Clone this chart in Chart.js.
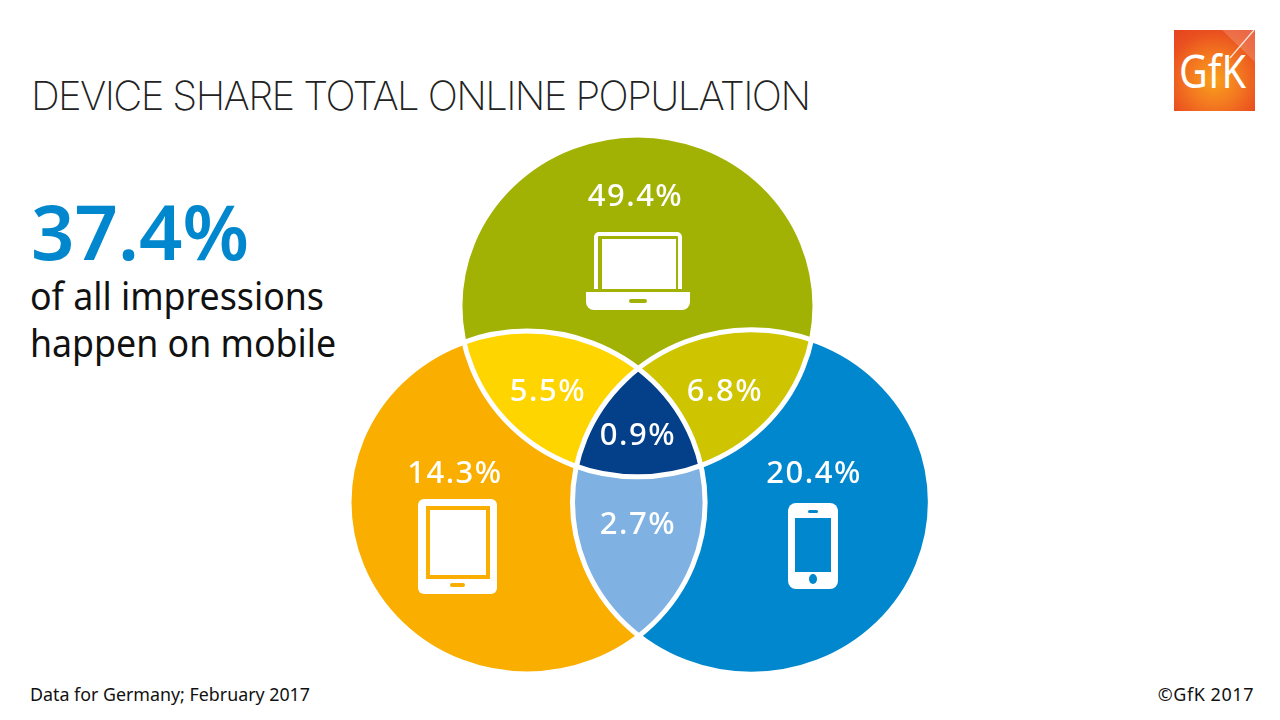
<!DOCTYPE html>
<html>
<head>
<meta charset="utf-8">
<title>Device share total online population</title>
<script src="https://cdn.jsdelivr.net/npm/chart.js@4"></script>
<style>
  html, body { margin: 0; padding: 0; background: #fff; }
  body { position: relative; width: 1280px; height: 720px; overflow: hidden; font-family: "Noto Sans", sans-serif; color: #111; }
  .abs { position: absolute; white-space: nowrap; line-height: 1; transform-origin: left top; }
  #title { left: 31px; top: 76px; font-family: Inter, sans-serif; font-weight: 200; font-size: 40px; letter-spacing: -1.6px; color: #222; }
  #bigShare { left: 31px; top: 193px; font-size: 76px; font-weight: 600; color: #0087cd; }
  #line1 { left: 30px; top: 276px; font-size: 38px; transform: scaleX(0.94); }
  #line2 { left: 30px; top: 323px; font-size: 38px; transform: scaleX(0.94); }
  #source { left: 30px; top: 685px; font-size: 18px; transform: scaleX(0.99); }
  #copyright { right: 26px; top: 685px; font-size: 18px; letter-spacing: 0.55px; }
  #logo { position: absolute; left: 1174px; top: 30px; width: 81px; height: 81px; overflow: hidden;
    background: radial-gradient(circle at 50% 62%, #f9a01b 0%, #f47a20 38%, #e9501f 75%, #e4431f 100%); }
  #logo span { position: absolute; left: 5px; top: 17px; font-size: 46px; line-height: 1; color: #fff; transform: scaleX(0.86); transform-origin: left top; }
  #vennChart { position: absolute; left: 338px; top: 129px; }
  svg { position: absolute; left: 0; top: 0; pointer-events: none; }
</style>
</head>
<body>
<div class="abs" id="title">DEVICE SHARE TOTAL ONLINE POPULATION</div>
<div class="abs" id="bigShare">37.4%</div>
<div class="abs" id="line1">of all impressions</div>
<div class="abs" id="line2">happen on mobile</div>
<div class="abs" id="source">Data for Germany; February 2017</div>
<div class="abs" id="copyright">©GfK 2017</div>
<div id="logo">
  <svg width="81" height="81">
    <polygon points="48,0 81,0 81,32" fill="#ffffff" opacity="0.18"/>
    <line x1="80" y1="0" x2="56" y2="28" stroke="#fff" stroke-width="1.2" opacity="0.85"/>
  </svg>
  <span>GfK</span>
</div>
<canvas id="vennChart" width="600" height="547"></canvas>

<svg width="1280" height="720">
  <!-- laptop -->
  <path d="M596 289V237a3 3 0 0 1 3-3H677a3 3 0 0 1 3 3V289" fill="none" stroke="#fff" stroke-width="4"/>
  <rect x="602" y="239" width="74" height="50" fill="#fff"/>
  <path d="M586 292H690V302a8 8 0 0 1-8 8H594a8 8 0 0 1-8-8Z" fill="#fff"/>
  <rect x="629" y="299" width="18" height="4" rx="2" fill="#a2b204"/>
  <!-- tablet -->
  <rect x="418" y="499" width="79" height="95" rx="6" fill="#fff"/>
  <rect x="428" y="508" width="60" height="69" fill="#fff" stroke="#f9ae00" stroke-width="4"/>
  <rect x="450" y="583" width="15" height="4" rx="2" fill="#f9ae00"/>
  <!-- phone -->
  <rect x="788" y="503" width="50" height="86" rx="8" fill="#fff"/>
  <rect x="795" y="518" width="36" height="54" fill="#0087cd"/>
  <rect x="808" y="510" width="10" height="3" rx="1.5" fill="#0087cd"/>
  <ellipse cx="813" cy="579" rx="4" ry="5" fill="#0087cd"/>
</svg>

<script>
const regionNames = ["Laptop", "Tablet", "Phone", "Laptop + Tablet", "Laptop + Phone", "Tablet + Phone", "All devices"];
const regionShares = [49.4, 14.3, 20.4, 5.5, 6.8, 2.7, 0.9];
const regionSets = [[0], [1], [2], [0, 1], [0, 2], [1, 2], [0, 1, 2]];
const regionColors = ["#a2b204", "#f9ae00", "#0087cd", "#ffd500", "#cec500", "#7fb2e2", "#034089"];

// label anchors, in the same units as the circles (radius about 1)
const labelX = [-0.014, -1.031, 0.992, -0.507, 0.49, 0, 0];
const labelY = [1.302, -0.319, -0.319, 0.161, 0.161, -0.617, -0.097];

const circleX = [-0.003, -0.625, 0.639];
const circleY = [0.665, -0.485, -0.482];
const circleRadius = [1, 1.003, 1.008];

function traceCircle(ctx, chart, index) {
  const { x, y } = chart.scales;
  const cx = x.getPixelForValue(circleX[index]);
  const cy = y.getPixelForValue(circleY[index]);
  const rx = Math.abs(x.getPixelForValue(circleRadius[index]) - x.getPixelForValue(0));
  const ry = Math.abs(y.getPixelForValue(circleRadius[index]) - y.getPixelForValue(0));
  ctx.beginPath();
  ctx.ellipse(cx, cy, rx, ry, 0, 0, Math.PI * 2);
}

const vennPlugin = {
  id: "venn",
  beforeDatasetsDraw(chart) {
    const { ctx } = chart;

    regionSets.forEach((set, i) => {
      ctx.save();
      set.slice(1).forEach((circle) => {
        traceCircle(ctx, chart, circle);
        ctx.clip();
      });
      traceCircle(ctx, chart, set[0]);
      ctx.fillStyle = regionColors[i];
      ctx.fill();
      ctx.restore();
    });

    circleX.forEach((_, i) => {
      traceCircle(ctx, chart, i);
      ctx.strokeStyle = "#fff";
      ctx.lineWidth = 5;
      ctx.stroke();
    });
  },
  afterDatasetsDraw(chart) {
    const { ctx } = chart;
    const points = chart.getDatasetMeta(0).data;

    ctx.save();
    ctx.fillStyle = "#fff";
    ctx.font = '500 31px "Noto Sans", sans-serif';
    ctx.letterSpacing = "1.5px";
    ctx.textAlign = "center";
    ctx.textBaseline = "middle";
    points.forEach((point, i) => {
      ctx.fillText(`${regionShares[i].toFixed(1)}%`, point.x, point.y);
    });
    ctx.restore();
  }
};

new Chart(document.getElementById("vennChart"), {
  type: "scatter",
  data: {
    labels: regionNames,
    datasets: [{
      label: "Device share",
      data: labelX.map((x, i) => ({ x, y: labelY[i] })),
      pointRadius: 0
    }]
  },
  options: {
    responsive: false,
    animation: false,
    devicePixelRatio: 1,
    layout: { padding: 0 },
    plugins: {
      legend: { display: false },
      tooltip: { enabled: false }
    },
    scales: {
      x: { display: false, min: -1.69, max: 1.69 },
      y: { display: false, min: -1.5, max: 1.7 }
    }
  },
  plugins: [vennPlugin]
});
</script>
</body>
</html>
